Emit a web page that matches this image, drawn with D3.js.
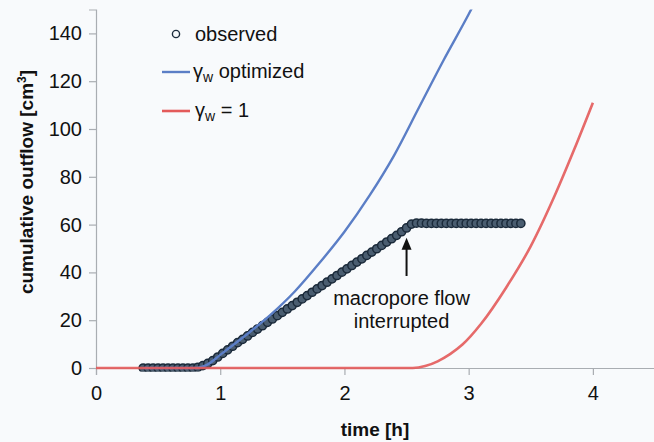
<!DOCTYPE html>
<html><head><meta charset="utf-8">
<script src="https://cdn.jsdelivr.net/npm/d3@7"></script>
<style>
html,body{margin:0;padding:0;background:#f8fafc;}
svg{display:block;font-family:"Liberation Sans",Arial,sans-serif;}
</style></head>
<body><svg id="c" width="654" height="442"></svg>
<script>
const xTicks = [0, 1, 2, 3, 4];
const yTicks = [0, 20, 40, 60, 80, 100, 120, 140];

const obsTime = [0.38,0.42,0.46,0.50,0.54,0.58,0.62,0.66,0.70,0.74,0.78,
 0.82,0.86,0.90,0.94,0.98,1.02,1.06,1.10,1.14,1.18,1.22,1.26,1.30,1.34,1.38,1.42,1.46,1.50,
 1.54,1.58,1.62,1.66,1.70,1.74,1.78,1.82,1.86,1.90,1.94,1.98,2.02,2.06,2.10,2.14,2.18,2.22,
 2.26,2.30,2.34,2.38,2.42,2.46,2.50,2.54,2.58,2.62,2.66,2.70,2.74,2.78,2.82,2.86,2.90,2.94,
 2.98,3.02,3.06,3.10,3.14,3.18,3.22,3.26,3.30,3.34,3.38,3.42];
const obsValue = [0,0,0,0,0,0,0,0,0,0,0,
 0.3,1.0,1.9,3.1,4.6,6.1,7.6,9.1,10.6,12.0,13.4,14.9,16.3,17.7,19.1,20.5,21.9,23.3,
 24.7,26.1,27.5,28.9,30.3,31.7,33.1,34.5,35.9,37.3,38.7,40.1,41.5,42.9,44.3,45.7,47.1,48.5,
 49.9,51.3,52.7,54.1,55.5,57.0,58.6,60.2,60.6,60.6,60.5,60.5,60.5,60.5,60.5,60.5,60.5,60.5,
 60.5,60.5,60.5,60.5,60.5,60.5,60.5,60.5,60.5,60.5,60.5,60.5];

const optTime  = [0.38, 0.80, 0.90, 1.00, 1.20, 1.40, 1.60, 1.80, 2.00, 2.20, 2.40, 2.60, 2.80, 3.00, 3.05];
const optValue = [0,    0,    1.5,  5.5,  13.5, 22,   32,   44,   57,   72,   89,   109,  129,  148,  153];

const oneTime  = [0, 2.55, 2.65, 2.75, 2.85, 2.95, 3.10, 3.30, 3.50, 3.70, 3.85, 4.00];
const oneValue = [0, 0,    0.8,  2.8,  5.8,  9.8,  18.5, 33.5, 51,   73,   91.5, 111];

const svg = d3.select("#c");
const x = d3.scaleLinear().domain([0, 4.5]).range([96, 655]);
const y = d3.scaleLinear().domain([0, 150]).range([368, 9.5]);

const axisColor = "#a9adb2";
const font = "'Liberation Sans',Arial,sans-serif";

svg.append("clipPath").attr("id","clip").append("rect")
  .attr("x",96).attr("y",9.5).attr("width",560).attr("height",362);

const gx = svg.append("g").attr("transform","translate(0,368)")
  .call(d3.axisBottom(x).tickValues(xTicks).tickSize(7).tickPadding(11).tickFormat(d3.format("d")));
const gy = svg.append("g").attr("transform","translate(96,0)")
  .call(d3.axisLeft(y).tickValues(yTicks).tickSize(7).tickPadding(7).tickFormat(d3.format("d")));
[gx, gy].forEach(g => {
  g.select(".domain").attr("stroke", axisColor).attr("stroke-width",1.2);
  g.selectAll(".tick line").attr("stroke", axisColor).attr("stroke-width",1.2);
  g.selectAll(".tick text").attr("fill","#111").style("font-size","20px").style("font-family",font);
});

const line = d3.line().x(d => x(d[0])).y(d => y(d[1])).curve(d3.curveMonotoneX);
const plot = svg.append("g").attr("clip-path","url(#clip)");

plot.append("g").selectAll("circle").data(obsTime.map((t,i)=>[t,obsValue[i]])).join("circle")
  .attr("cx", d => x(d[0])).attr("cy", d => y(d[1])).attr("r", 4.1)
  .attr("fill","#4a5d70").attr("stroke","#1b2a3a").attr("stroke-width",1.5);

plot.append("path").datum(optTime.map((t,i)=>[t,optValue[i]]))
  .attr("d", line).attr("fill","none").attr("stroke","#5b7ec6").attr("stroke-width",2.4);
plot.append("path").datum(oneTime.map((t,i)=>[t,oneValue[i]]))
  .attr("d", line).attr("fill","none").attr("stroke","#e35a5a").attr("stroke-width",2.6).attr("stroke-opacity",0.9);

const ax = x(2.5);
svg.append("line").attr("x1",ax).attr("x2",ax).attr("y1",y(52)).attr("y2",y(38.5))
  .attr("stroke","#111").attr("stroke-width",2);
svg.append("path").attr("d",`M${ax},${y(54.5)} L${ax-5},${y(49.5)} L${ax+5},${y(49.5)} Z`).attr("fill","#111");
const ann = svg.append("text").attr("text-anchor","middle").attr("fill","#111").style("font-size","20px");
ann.append("tspan").attr("x", ax - 5).attr("y", 305).text("macropore flow");
ann.append("tspan").attr("x", ax - 5).attr("y", 328).text("interrupted");

svg.append("text").attr("x", 375).attr("y", 436).attr("text-anchor","middle")
  .style("font-size","19px").style("font-weight","bold").attr("fill","#111").text("time [h]");
const yt = svg.append("text").attr("transform","translate(33,182) rotate(-90)").attr("text-anchor","middle")
  .style("font-size","19px").style("font-weight","bold").attr("fill","#111");
yt.append("tspan").text("cumulative outflow [cm");
yt.append("tspan").attr("baseline-shift","super").style("font-size","12px").text("3");
yt.append("tspan").text("]");

const lg = svg.append("g");
lg.append("circle").attr("cx",176).attr("cy",34).attr("r",3.6).attr("fill","#f8fafc").attr("stroke","#1d2d3e").attr("stroke-width",1.4);
lg.append("text").attr("x",195).attr("y",41).style("font-size","20px").attr("fill","#111").text("observed");
lg.append("line").attr("x1",162).attr("x2",190).attr("y1",72).attr("y2",72).attr("stroke","#5b7ec6").attr("stroke-width",2.4);
const t2 = lg.append("text").attr("x",193).attr("y",78).style("font-size","20px").attr("fill","#111");
t2.append("tspan").text("γ");
t2.append("tspan").attr("baseline-shift","-25%").style("font-size","14px").text("w");
t2.append("tspan").text(" optimized");
lg.append("line").attr("x1",162).attr("x2",190).attr("y1",111).attr("y2",111).attr("stroke","#e35a5a").attr("stroke-width",2.6);
const t3 = lg.append("text").attr("x",195).attr("y",117).style("font-size","20px").attr("fill","#111");
t3.append("tspan").text("γ");
t3.append("tspan").attr("baseline-shift","-25%").style("font-size","14px").text("w");
t3.append("tspan").text(" = 1");
</script></body></html>
